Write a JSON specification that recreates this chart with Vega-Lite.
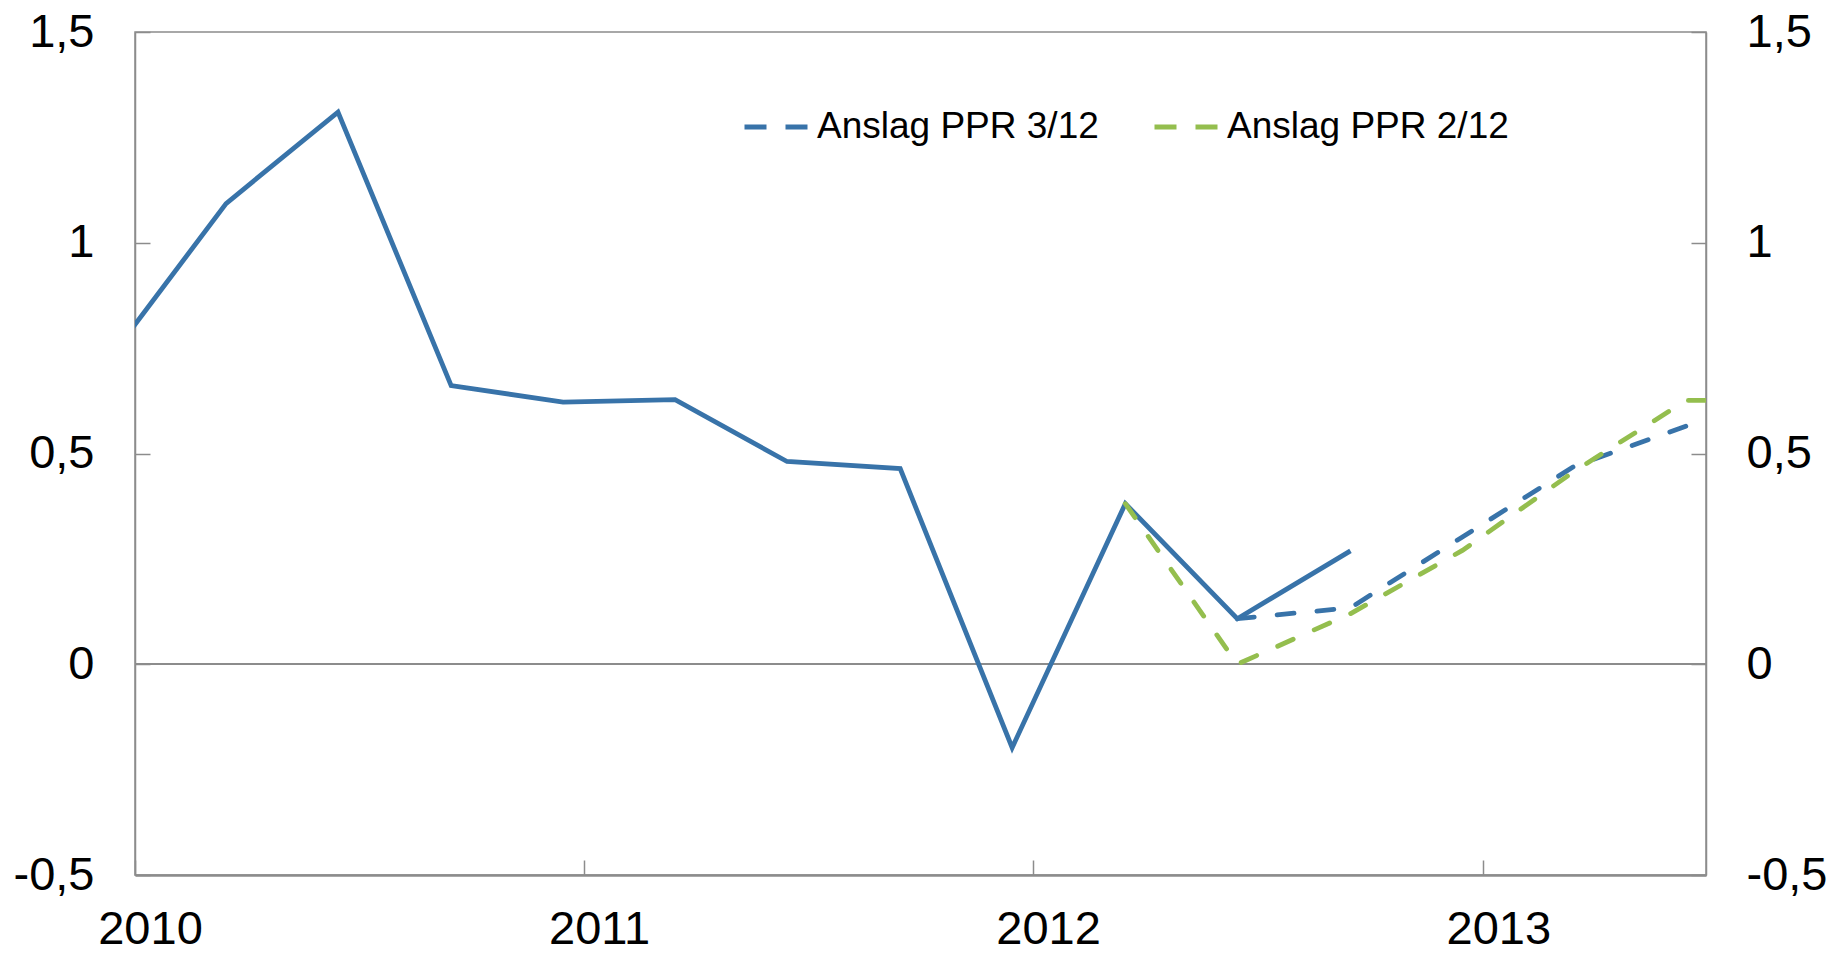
{
  "$schema": "https://vega.github.io/schema/vega-lite/v6.json",
  "autosize": {"type": "none"},
  "width": 1571,
  "height": 843,
  "padding": {"left": 135, "top": 32, "right": 129, "bottom": 80},
  "background": "white",
  "config": {
    "view": {"stroke": "#8c8c8c", "strokeWidth": 1.5},
    "font": "Liberation Sans",
    "axis": {
      "labelFont": "Liberation Sans",
      "labelFontSize": 47,
      "labelColor": "#000000",
      "domainColor": "#8c8c8c",
      "tickColor": "#8c8c8c",
      "domainWidth": 1.5,
      "tickWidth": 1.5,
      "grid": false,
      "title": null
    }
  },
  "data": {
    "values": [
      {"date": "2009-12-15", "value": 0.74, "series": "Faktisk"},
      {"date": "2010-03-16", "value": 1.093, "series": "Faktisk"},
      {"date": "2010-06-15", "value": 1.31, "series": "Faktisk"},
      {"date": "2010-09-15", "value": 0.661, "series": "Faktisk"},
      {"date": "2010-12-15", "value": 0.622, "series": "Faktisk"},
      {"date": "2011-03-16", "value": 0.628, "series": "Faktisk"},
      {"date": "2011-06-15", "value": 0.481, "series": "Faktisk"},
      {"date": "2011-09-15", "value": 0.464, "series": "Faktisk"},
      {"date": "2011-12-15", "value": -0.198, "series": "Faktisk"},
      {"date": "2012-03-16", "value": 0.381, "series": "Faktisk"},
      {"date": "2012-06-15", "value": 0.108, "series": "Faktisk"},
      {"date": "2012-09-15", "value": 0.269, "series": "Faktisk"},
      {"date": "2012-06-15", "value": 0.108, "series": "Anslag PPR 3/12"},
      {"date": "2012-09-15", "value": 0.134, "series": "Anslag PPR 3/12"},
      {"date": "2012-12-15", "value": 0.302, "series": "Anslag PPR 3/12"},
      {"date": "2013-03-16", "value": 0.47, "series": "Anslag PPR 3/12"},
      {"date": "2013-06-15", "value": 0.565, "series": "Anslag PPR 3/12"},
      {"date": "2012-03-16", "value": 0.381, "series": "Anslag PPR 2/12"},
      {"date": "2012-06-15", "value": 0.0, "series": "Anslag PPR 2/12"},
      {"date": "2012-09-15", "value": 0.12, "series": "Anslag PPR 2/12"},
      {"date": "2012-12-15", "value": 0.27, "series": "Anslag PPR 2/12"},
      {"date": "2013-03-16", "value": 0.458, "series": "Anslag PPR 2/12"},
      {"date": "2013-06-15", "value": 0.626, "series": "Anslag PPR 2/12"},
      {"date": "2013-09-15", "value": 0.626, "series": "Anslag PPR 2/12"}
    ]
  },
  "resolve": {"scale": {"y": "shared"}, "axis": {"y": "independent"}},
  "layer": [
    {
      "mark": {"type": "rule", "color": "#8c8c8c", "strokeWidth": 1.5},
      "encoding": {
        "y": {
          "datum": 0,
          "type": "quantitative",
          "scale": {"domain": [-0.5, 1.5], "nice": false, "zero": false},
          "axis": {
            "orient": "right",
            "values": [-0.5, 0, 0.5, 1, 1.5],
            "tickSize": -15,
            "labelPadding": 55,
            "labelAlign": "left",
            "labelExpr": "replace(replace(format(datum.value, '.1~f'), '.', ','), '\u2212', '-')"
          }
        }
      }
    },
    {
      "transform": [{"filter": "datum.series === 'Faktisk'"}],
      "mark": {"type": "line", "color": "#3873a9", "strokeWidth": 4.8, "clip": true, "strokeJoin": "miter"},
      "encoding": {
        "x": {
          "field": "date",
          "type": "temporal",
          "scale": {"type": "utc", "domain": [{"year": 2010, "month": 1, "date": 1, "utc": true}, {"year": 2013, "month": 7, "date": 1, "utc": true}]},
          "axis": {
            "values": [{"year": 2010, "month": 1, "date": 1, "utc": true}, {"year": 2011, "month": 1, "date": 1, "utc": true}, {"year": 2012, "month": 1, "date": 1, "utc": true}, {"year": 2013, "month": 1, "date": 1, "utc": true}],
            "labelExpr": "utcFormat(datum.value, '%Y')",
            "tickSize": -15,
            "labelPadding": 46,
            "labelOffset": 15,
            "labelFlush": false,
            "labelOverlap": false,
            "domainWidth": 2.5
          }
        },
        "y": {
          "field": "value",
          "type": "quantitative",
          "axis": {
            "orient": "left",
            "values": [-0.5, 0, 0.5, 1, 1.5],
            "tickSize": -15,
            "labelPadding": 56,
            "labelExpr": "replace(replace(format(datum.value, '.1~f'), '.', ','), '\u2212', '-')"
          }
        }
      }
    },
    {
      "transform": [{"filter": "datum.series !== 'Faktisk'"}],
      "mark": {"type": "line", "strokeWidth": 4.8, "strokeDash": [17, 23], "strokeCap": "round", "clip": true},
      "encoding": {
        "x": {"field": "date", "type": "temporal"},
        "y": {"field": "value", "type": "quantitative", "axis": null},
        "color": {
          "field": "series",
          "type": "nominal",
          "sort": ["Anslag PPR 3/12", "Anslag PPR 2/12"],
          "scale": {"domain": ["Anslag PPR 3/12", "Anslag PPR 2/12"], "range": ["#3873a9", "#94be4e"]},
          "legend": {
            "orient": "none",
            "legendX": 607,
            "legendY": 61,
            "direction": "horizontal",
            "title": null,
            "symbolType": "stroke",
            "symbolSize": 3969,
            "symbolStrokeWidth": 4.8,
            "symbolDash": [22, 19],
            "labelFont": "Liberation Sans",
            "labelFontSize": 37,
            "labelColor": "#000000",
            "labelOffset": 7,
            "labelLimit": 0,
            "columnPadding": 45
          }
        }
      }
    }
  ]
}
